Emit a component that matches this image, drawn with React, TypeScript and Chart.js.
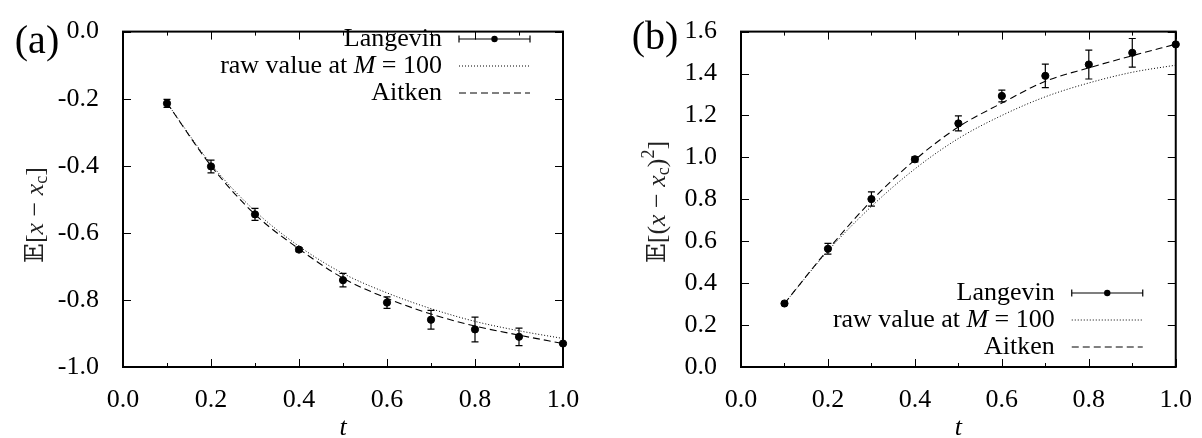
import React, { useEffect, useRef } from 'react';
import { Chart, registerables } from 'chart.js';
Chart.register(...registerables);

const tValues = [0.1, 0.2, 0.3, 0.4, 0.5, 0.6, 0.7, 0.8, 0.9, 1.0];

// Panel (a): E[x - x_c]
const langevinA = [-0.214, -0.402, -0.545, -0.650, -0.741, -0.808, -0.859, -0.888, -0.910, -0.930];
const langevinErrA = [0.012, 0.019, 0.018, 0.006, 0.02, 0.017, 0.028, 0.037, 0.026, 0.003];
const rawA = [-0.213, -0.395, -0.535, -0.640, -0.721, -0.779, -0.826, -0.864, -0.892, -0.915];
const aitkenA = [-0.213, -0.400, -0.545, -0.648, -0.735, -0.795, -0.842, -0.878, -0.905, -0.930];

// Panel (b): E[(x - x_c)^2]
const langevinB = [0.303, 0.564, 0.801, 0.991, 1.162, 1.293, 1.389, 1.443, 1.499, 1.539];
const langevinErrB = [0.005, 0.026, 0.034, 0.012, 0.036, 0.028, 0.056, 0.069, 0.068, 0.004];
const rawB = [0.303, 0.554, 0.766, 0.945, 1.090, 1.200, 1.289, 1.355, 1.406, 1.440];
const aitkenB = [0.303, 0.560, 0.793, 0.988, 1.145, 1.259, 1.363, 1.427, 1.485, 1.540];

const xTicks = [0, 0.2, 0.4, 0.6, 0.8, 1.0];
const xMinorTicks = [0.1, 0.3, 0.5, 0.7, 0.9];
const yTicksA = [-1.0, -0.8, -0.6, -0.4, -0.2, 0.0];
const yTicksB = [0.0, 0.2, 0.4, 0.6, 0.8, 1.0, 1.2, 1.4, 1.6];

const legendLabels = ['Langevin', 'raw value at M = 100', 'Aitken'];

const SERIF = '"Liberation Serif", "DejaVu Serif", serif';
const W = 601;
const H = 438;

type Panel = {
  tag: string;
  boxLeft: number;
  boxRight: number;
  yMin: number;
  yMax: number;
  yTicks: number[];
  lang: number[];
  err: number[];
  raw: number[];
  aitken: number[];
  legendRows: number[];
  tagPos: [number, number];
  yTitle: { t: string; f: string; dy?: number }[];
  yTitlePos: [number, number];
};

const normal = `26px ${SERIF}`;
const italic = `italic 26px ${SERIF}`;
const small = `18px ${SERIF}`;

const panels: Panel[] = [
  {
    tag: '(a)',
    boxLeft: 123,
    boxRight: 563,
    yMin: -1,
    yMax: 0,
    yTicks: yTicksA,
    lang: langevinA,
    err: langevinErrA,
    raw: rawA,
    aitken: aitkenA,
    legendRows: [39, 66, 93],
    tagPos: [37, 42],
    yTitle: [
      { t: '𝔼', f: normal },
      { t: '[', f: normal },
      { t: 'x', f: italic },
      { t: ' − ', f: normal },
      { t: 'x', f: italic },
      { t: 'c', f: small, dy: 6 },
      { t: ']', f: normal },
    ],
    yTitlePos: [36, 215],
  },
  {
    tag: '(b)',
    boxLeft: 140,
    boxRight: 579,
    yMin: 0,
    yMax: 1.6,
    yTicks: yTicksB,
    lang: langevinB,
    err: langevinErrB,
    raw: rawB,
    aitken: aitkenB,
    legendRows: [293, 320, 347],
    tagPos: [54, 38],
    yTitle: [
      { t: '𝔼', f: normal },
      { t: '[', f: normal },
      { t: '(', f: normal },
      { t: 'x', f: italic },
      { t: ' − ', f: normal },
      { t: 'x', f: italic },
      { t: 'c', f: small, dy: 6 },
      { t: ')', f: normal },
      { t: '2', f: small, dy: -9 },
      { t: ']', f: normal },
    ],
    yTitlePos: [57, 202],
  },
];

function framePlugin(p: Panel) {
  return {
    id: 'frame' + p.tag,
    afterDraw(chart: any) {
      const ctx: CanvasRenderingContext2D = chart.ctx;
      const { left, right, top, bottom } = chart.chartArea;
      const xs = chart.scales.x;
      const ys = chart.scales.y;
      ctx.save();
      ctx.strokeStyle = '#000';
      ctx.fillStyle = '#000';

      // error bars
      ctx.lineWidth = 1.2;
      p.lang.forEach((v, i) => {
        const x = xs.getPixelForValue(tValues[i]);
        const y1 = ys.getPixelForValue(v - p.err[i]);
        const y2 = ys.getPixelForValue(v + p.err[i]);
        ctx.beginPath();
        ctx.moveTo(x, y1);
        ctx.lineTo(x, y2);
        ctx.moveTo(x - 3.5, y1);
        ctx.lineTo(x + 3.5, y1);
        ctx.moveTo(x - 3.5, y2);
        ctx.lineTo(x + 3.5, y2);
        ctx.stroke();
      });

      // box
      ctx.lineWidth = 2;
      ctx.strokeRect(left, top, right - left, bottom - top);

      // inward ticks
      ctx.lineWidth = 1;
      ctx.beginPath();
      xTicks.forEach((v) => {
        const x = Math.round(xs.getPixelForValue(v)) + 0.5;
        ctx.moveTo(x, bottom);
        ctx.lineTo(x, bottom - 8);
        ctx.moveTo(x, top);
        ctx.lineTo(x, top + 8);
      });
      xMinorTicks.forEach((v) => {
        const x = Math.round(xs.getPixelForValue(v)) + 0.5;
        ctx.moveTo(x, bottom);
        ctx.lineTo(x, bottom - 4);
        ctx.moveTo(x, top);
        ctx.lineTo(x, top + 4);
      });
      p.yTicks.forEach((v) => {
        const y = Math.round(ys.getPixelForValue(v)) + 0.5;
        ctx.moveTo(left, y);
        ctx.lineTo(left + 8, y);
        ctx.moveTo(right, y);
        ctx.lineTo(right - 8, y);
      });
      ctx.stroke();

      // legend
      const textRight = right - 121;
      const lx1 = right - 104;
      const lx2 = right - 33;
      ctx.textBaseline = 'middle';
      ctx.textAlign = 'left';
      const rows = p.legendRows;
      // Langevin
      ctx.font = normal;
      let w = ctx.measureText(legendLabels[0]).width;
      ctx.fillText(legendLabels[0], textRight - w, rows[0]);
      ctx.lineWidth = 1.2;
      ctx.beginPath();
      ctx.moveTo(lx1, rows[0]);
      ctx.lineTo(lx2, rows[0]);
      ctx.moveTo(lx1, rows[0] - 3.5);
      ctx.lineTo(lx1, rows[0] + 3.5);
      ctx.moveTo(lx2, rows[0] - 3.5);
      ctx.lineTo(lx2, rows[0] + 3.5);
      ctx.stroke();
      ctx.beginPath();
      ctx.arc((lx1 + lx2) / 2, rows[0], 3.2, 0, Math.PI * 2);
      ctx.fill();
      // raw value at M = 100
      const parts = [
        { t: 'raw value at ', f: normal },
        { t: 'M', f: italic },
        { t: ' = 100', f: normal },
      ];
      let total = 0;
      parts.forEach((pt) => {
        ctx.font = pt.f;
        total += ctx.measureText(pt.t).width;
      });
      let cx = textRight - total;
      parts.forEach((pt) => {
        ctx.font = pt.f;
        ctx.fillText(pt.t, cx, rows[1]);
        cx += ctx.measureText(pt.t).width;
      });
      ctx.lineWidth = 1;
      ctx.setLineDash([1, 2]);
      ctx.beginPath();
      ctx.moveTo(lx1, rows[1]);
      ctx.lineTo(lx2, rows[1]);
      ctx.stroke();
      // Aitken
      ctx.setLineDash([7, 4]);
      ctx.beginPath();
      ctx.moveTo(lx1, rows[2]);
      ctx.lineTo(lx2, rows[2]);
      ctx.stroke();
      ctx.setLineDash([]);
      ctx.font = normal;
      w = ctx.measureText(legendLabels[2]).width;
      ctx.fillText(legendLabels[2], textRight - w, rows[2]);

      // panel tag
      ctx.font = `40px ${SERIF}`;
      ctx.textAlign = 'center';
      ctx.fillText(p.tag, p.tagPos[0], p.tagPos[1]);

      // x title
      ctx.font = italic;
      ctx.textBaseline = 'alphabetic';
      ctx.fillText('t', (left + right) / 2, 435);

      // y title
      ctx.save();
      ctx.translate(p.yTitlePos[0], p.yTitlePos[1]);
      ctx.rotate(-Math.PI / 2);
      ctx.fillStyle = '#222';
      ctx.textAlign = 'left';
      ctx.textBaseline = 'middle';
      let tw = 0;
      p.yTitle.forEach((pt) => {
        ctx.font = pt.f;
        tw += ctx.measureText(pt.t).width;
      });
      let px = -tw / 2;
      p.yTitle.forEach((pt) => {
        ctx.font = pt.f;
        ctx.fillText(pt.t, px, pt.dy || 0);
        px += ctx.measureText(pt.t).width;
      });
      ctx.restore();

      ctx.restore();
    },
  };
}

function makeConfig(p: Panel): any {
  const pts = (arr: number[]) => tValues.map((t, i) => ({ x: t, y: arr[i] }));
  return {
    type: 'line',
    data: {
      datasets: [
        {
          label: legendLabels[0],
          data: pts(p.lang),
          showLine: false,
          pointRadius: 3.6,
          pointBackgroundColor: '#000',
          pointBorderColor: '#000',
          borderColor: '#000',
          clip: false,
        },
        {
          label: legendLabels[1],
          data: pts(p.raw),
          borderColor: '#000',
          borderWidth: 1,
          borderDash: [1, 2],
          pointRadius: 0,
          cubicInterpolationMode: 'monotone',
          fill: false,
        },
        {
          label: legendLabels[2],
          data: pts(p.aitken),
          borderColor: '#000',
          borderWidth: 1.1,
          borderDash: [7, 4],
          pointRadius: 0,
          cubicInterpolationMode: 'monotone',
          fill: false,
        },
      ],
    },
    options: {
      animation: false,
      responsive: false,
      events: [],
      layout: { padding: { top: 19, right: W - p.boxRight, bottom: 0, left: 0 } },
      plugins: { legend: { display: false }, tooltip: { enabled: false } },
      scales: {
        x: {
          type: 'linear',
          min: 0,
          max: 1,
          afterBuildTicks: (s: any) => {
            s.ticks = xTicks.map((v) => ({ value: v }));
          },
          afterFit: (s: any) => {
            s.height = H - 367;
          },
          grid: { display: false },
          border: { display: false },
          ticks: {
            padding: 10,
            color: '#000',
            font: { family: SERIF, size: 26 },
            maxRotation: 0,
            autoSkip: false,
            callback: (v: number) => Number(v).toFixed(1),
          },
        },
        y: {
          type: 'linear',
          min: p.yMin,
          max: p.yMax,
          afterBuildTicks: (s: any) => {
            s.ticks = p.yTicks.map((v) => ({ value: v }));
          },
          afterFit: (s: any) => {
            s.width = p.boxLeft;
          },
          grid: { display: false },
          border: { display: false },
          ticks: {
            padding: 16,
            color: '#000',
            font: { family: SERIF, size: 26 },
            autoSkip: false,
            callback: (v: number) => Number(v).toFixed(1),
          },
        },
      },
    },
    plugins: [framePlugin(p)],
  };
}

function PanelChart({ p }: { p: Panel }) {
  const ref = useRef<HTMLCanvasElement | null>(null);
  useEffect(() => {
    if (!ref.current) return;
    const chart = new Chart(ref.current, makeConfig(p));
    return () => chart.destroy();
  }, [p]);
  return (
    <div style={{ width: W, height: H, position: 'relative' }}>
      <canvas ref={ref} width={W} height={H} style={{ width: W, height: H, display: 'block' }} />
    </div>
  );
}

export default function App() {
  useEffect(() => {
    document.body.style.margin = '0';
    document.body.style.background = '#fff';
  }, []);
  return (
    <div style={{ display: 'flex', width: 1202, height: H, background: '#fff' }}>
      {panels.map((p) => (
        <PanelChart key={p.tag} p={p} />
      ))}
    </div>
  );
}
